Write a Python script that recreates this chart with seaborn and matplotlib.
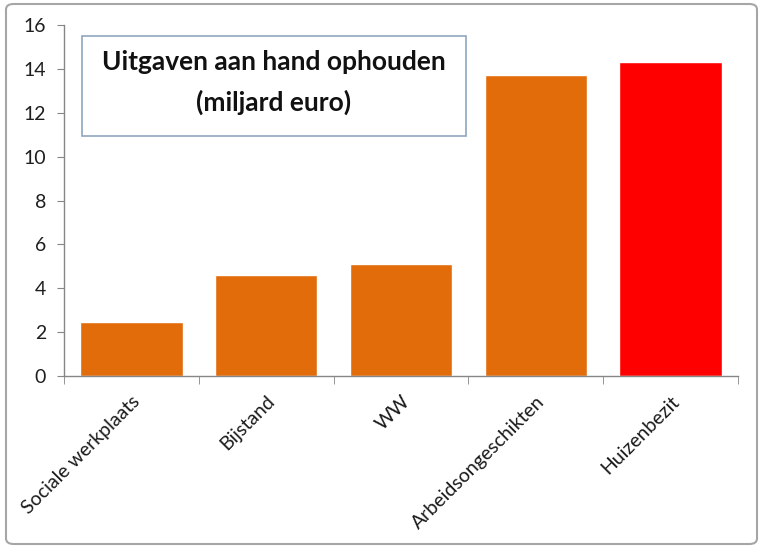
import matplotlib
matplotlib.use("Agg")
import matplotlib.pyplot as plt
import seaborn as sns
import pandas as pd
from matplotlib.patches import FancyBboxPatch, Rectangle

# data
categories = ["Sociale werkplaats", "Bijstand", "WW", "Arbeidsongeschikten", "Huizenbezit"]
values = [2.45, 4.6, 5.1, 13.7, 14.3]
bar_colors = ["#E36C0A", "#E36C0A", "#E36C0A", "#E36C0A", "#FF0000"]
yticks = [0, 2, 4, 6, 8, 10, 12, 14, 16]
title_lines = ["Uitgaven aan hand ophouden", "(miljard euro)"]

df = pd.DataFrame({"post": categories, "miljard": values})

sns.set_style("white")
plt.rcParams["font.family"] = ["Lato", "DejaVu Sans"]

W, H = 763, 548
fig = plt.figure(figsize=(W / 100, H / 100), dpi=100)
ax = fig.add_axes([64 / W, 1 - 376 / H, 674 / W, 351 / H])

sns.barplot(data=df, x="post", y="miljard", hue="post", palette=bar_colors,
            width=0.76, legend=False, saturation=1, ax=ax)

ax.set_xlim(-0.5, len(categories) - 0.5)
ax.set_ylim(0, 16)
ax.set_yticks(yticks)
ax.set_xlabel("")
ax.set_ylabel("")

# excel style axes: only left and bottom, gray
for side in ["top", "right"]:
    ax.spines[side].set_visible(False)
for side in ["left", "bottom"]:
    ax.spines[side].set_color("#868686")
    ax.spines[side].set_linewidth(1.0)

ax.tick_params(axis="y", direction="out", length=5, color="#868686", labelsize=14,
               labelcolor="#1f1f1f", left=True, pad=8)
ax.set_xticks(range(len(categories)))
ax.set_xticklabels(categories, rotation=45, ha="right", rotation_mode="anchor",
                   fontsize=14, color="#1a1a1a")
ax.tick_params(axis="x", which="major", length=0, pad=12)
ax.set_xticks([i - 0.5 for i in range(len(categories) + 1)], minor=True)
ax.tick_params(axis="x", which="minor", direction="out", length=6, color="#868686", bottom=True)

# title box
fig.patches.append(Rectangle((82 / W, 1 - 136 / H), 384 / W, 100 / H,
                             transform=fig.transFigure, facecolor="white",
                             edgecolor="#8FA6BF", linewidth=1.2, zorder=5))
fig.text(274 / W, 1 - 62 / H, title_lines[0], ha="center", va="center",
         fontsize=19, fontweight="bold", color="#111111", zorder=6)
fig.text(274 / W, 1 - 102 / H, title_lines[1], ha="center", va="center",
         fontsize=19, fontweight="bold", color="#111111", zorder=6)

# outer chart border
fig.patches.append(FancyBboxPatch((6 / W, 4 / H), 751 / W, 540 / H,
                                  boxstyle="round,pad=0,rounding_size=0.01",
                                  transform=fig.transFigure, facecolor="none",
                                  edgecolor="#A6A6A6", linewidth=1.5))

fig.savefig("out.png", dpi=100)
